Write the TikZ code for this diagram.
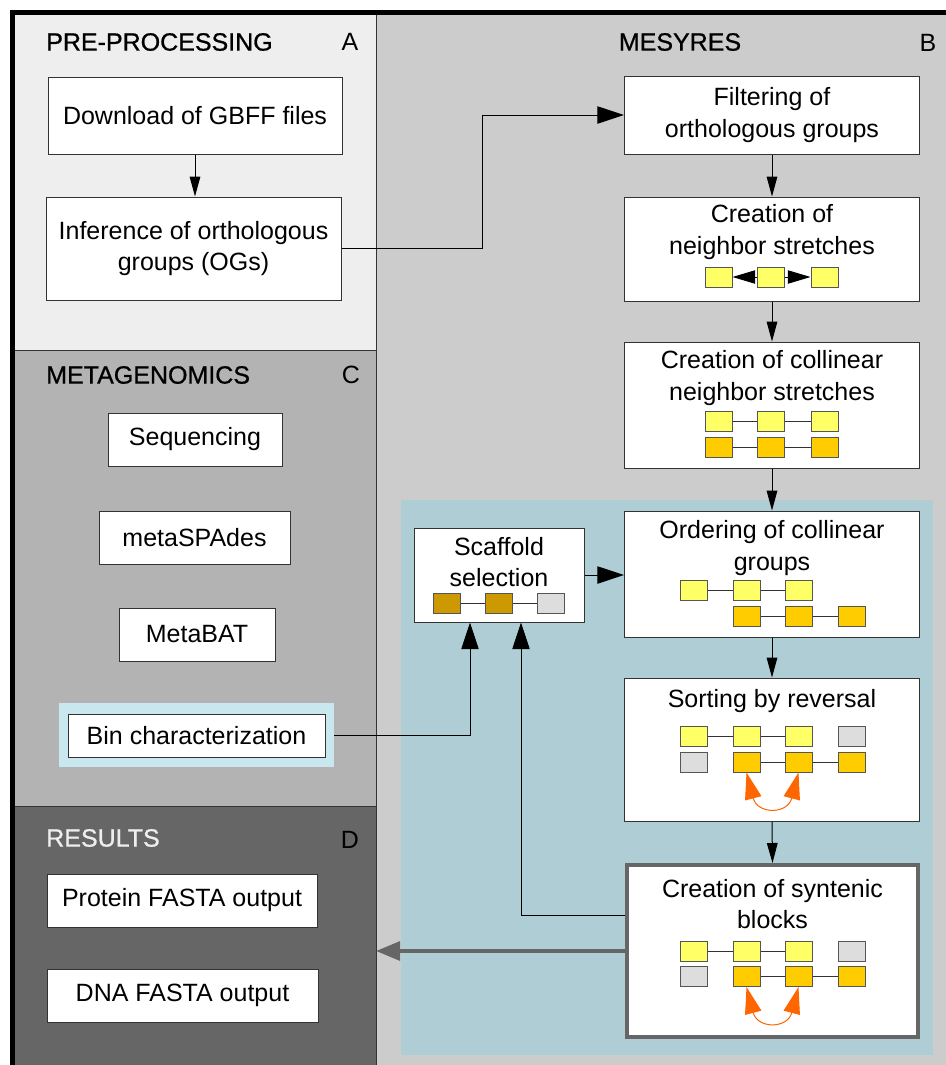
\documentclass[tikz,border=0pt]{standalone}
\usepackage{fontspec}
\setmainfont{Liberation Sans}
\newfontfamily\medfont[FakeBold=0.8]{Liberation Sans}
\usetikzlibrary{arrows.meta,calc}
\definecolor{pA}{HTML}{EEEEEE}
\definecolor{pB}{HTML}{CCCCCC}
\definecolor{pC}{HTML}{B3B3B3}
\definecolor{pD}{HTML}{666666}
\definecolor{blueR}{HTML}{AECDD4}
\definecolor{binblue}{HTML}{C9E7EF}
\definecolor{cY}{HTML}{FFFF66}
\definecolor{cO}{HTML}{FFCC00}
\definecolor{cG}{HTML}{CC9900}
\definecolor{cL}{HTML}{DDDDDD}
\definecolor{cR}{HTML}{FF6600}
\definecolor{bordc}{HTML}{333333}
\definecolor{sqc}{HTML}{555555}
\begin{document}
\begin{tikzpicture}[x=0.75pt,y=-0.75pt,
  bx/.style 2 args={draw=bordc, line width=0.75pt, fill=white, minimum width=#1*0.75pt, minimum height=#2*0.75pt, inner sep=0pt, align=center, font=\fontsize{18.75}{23.5}\selectfont},
  txt/.style={inner sep=0pt, align=center, font=\fontsize{18.75}{23.5}\selectfont},
  ttl/.style={inner sep=0pt, anchor=west, font=\medfont\fontsize{18.75}{22}\selectfont},
  lett/.style={inner sep=0pt, font=\fontsize{18.75}{22}\selectfont},
  sq/.style={draw=sqc, line width=0.75pt, minimum width=27*0.75pt, minimum height=20*0.75pt, inner sep=0pt},
  sqY/.style={sq, fill=cY}, sqO/.style={sq, fill=cO}, sqG/.style={sq, fill=cG}, sqL/.style={sq, fill=cL},
  link/.style={draw=bordc, line width=0.75pt},
  arr/.style={-{Triangle[length=15pt,width=8pt]}, line width=0.75pt, black},
  bigarr/.style={-{Triangle[length=20pt,width=13pt]}, line width=0.75pt, black},
  nbarr/.style={-{Triangle[length=17pt,width=10pt]}, line width=0.75pt, black},
  orarr/.style={{Triangle[length=20pt,width=12.5pt]}-{Triangle[length=20pt,width=12.5pt]}, line width=0.75pt, cR},
  grayarr/.style={-{Triangle[length=18pt,width=14pt]}, line width=3pt, pD},
  divider/.style={draw=bordc, line width=0.75pt}
]
\useasboundingbox (0,0) rectangle (946,1065);
% panels
\fill[pB] (376,12) rectangle (946,1065);
\fill[pA] (12,12) rectangle (376,350);
\fill[pC] (12,350) rectangle (376,806);
\fill[pD] (12,806) rectangle (376,1065);
\draw[divider] (376,12) -- (376,1065);
\draw[divider] (12,350) -- (376,350);
\draw[divider] (12,806) -- (376,806);
\fill[blueR] (401,500) rectangle (933,1055);
\draw[line width=3.75pt] (12,1065) -- (12,12) -- (946,12);
% titles
\node[ttl] (tA) at (46,42) {PRE-PROCESSING};
\node[lett] (lA) at (350,42) {A};
\node[lett, font=\medfont\fontsize{18.75}{22}\selectfont] (tB) at (680,42) {MESYRES};
\node[lett] (lB) at (928,43) {B};
\node[ttl] (tC) at (46,375) {METAGENOMICS};
\node[lett] (lC) at (351,375) {C};
\node[ttl, text=pA] (tD) at (46,838) {RESULTS};
\node[lett] (lD) at (350,840) {D};
% panel A
\node[bx={294}{77}] (dl) at (195,115.5) {Download of GBFF files};
\node[bx={295}{103}] (og) at (193.5,248.5) {Inference of orthologous\\groups (OGs)};
% panel C
\node[bx={174}{53}] (seq) at (195,439.5) {Sequencing};
\node[bx={191}{53}] (spa) at (194.5,537.5) {metaSPAdes};
\node[bx={156}{53}] (mba) at (197,634.5) {MetaBAT};
\node[fill=binblue, minimum width=275*0.75pt, minimum height=64*0.75pt, inner sep=0pt] (bin) at (196.5,735) {};
\node[bx={257}{43}] (binb) at (196.5,735.5) {Bin characterization};
% panel D
\node[bx={270}{53}] (prot) at (182,900.5) {Protein FASTA output};
\node[bx={271}{53}] (dna) at (182.5,995.5) {DNA FASTA output};
% panel B boxes
\node[bx={295}{78}] (filt) at (772,115) {Filtering of\\orthologous groups};
\node[bx={295}{104}] (nb) at (772,249) {};
\node[txt] (nbt) at (772,232) {Creation of\\neighbor stretches};
\node[bx={295}{126}] (col) at (772,405) {};
\node[txt] (colt) at (772,378) {Creation of collinear\\neighbor stretches};
\node[bx={295}{126}] (ord) at (772,574) {};
\node[txt] (ordt) at (772,548) {Ordering of collinear\\groups};
\node[bx={295}{143}] (sort) at (772,749.5) {};
\node[txt] (sortt) at (772,701) {Sorting by reversal};
\node[bx={291}{172}, draw=pD, line width=3pt] (syn) at (772.5,951) {};
\node[txt] (synt) at (772.5,904) {Creation of syntenic\\blocks};
\node[bx={170}{94}] (scaf) at (499,575) {};
\node[txt] (scaft) at (499,562) {Scaffold\\selection};
% squares: neighbor
\node[sqY] (n1) at (718.5,277) {};
\node[sqY] (n2) at (771,277) {};
\node[sqY] (n3) at (824.5,277) {};
\draw[nbarr] (n2.west) -- (n1.east);
\draw[nbarr] (n2.east) -- (n3.west);
% collinear
\node[sqY] (c1) at (718.5,421.5) {};
\node[sqY] (c2) at (771,421.5) {};
\node[sqY] (c3) at (824.5,421.5) {};
\node[sqO] (c4) at (718.5,447) {};
\node[sqO] (c5) at (771,447) {};
\node[sqO] (c6) at (824.5,447) {};
\draw[link] (c1.east) -- (c2.west) (c2.east) -- (c3.west) (c4.east) -- (c5.west) (c5.east) -- (c6.west);
% ordering
\node[sqY] (o1) at (693.5,590) {};
\node[sqY] (o2) at (746.5,590) {};
\node[sqY] (o3) at (798.5,590) {};
\node[sqO] (o4) at (746.5,616) {};
\node[sqO] (o5) at (798.5,616) {};
\node[sqO] (o6) at (851.5,616) {};
\draw[link] (o1.east) -- (o2.west) (o2.east) -- (o3.west) (o4.east) -- (o5.west) (o5.east) -- (o6.west);
% sorting
\node[sqY] (s1) at (693.5,736) {};
\node[sqY] (s2) at (746.5,736) {};
\node[sqY] (s3) at (798.5,736) {};
\node[sqL] (s4) at (851.5,736) {};
\node[sqL] (s5) at (693.5,762) {};
\node[sqO] (s6) at (746.5,762) {};
\node[sqO] (s7) at (798.5,762) {};
\node[sqO] (s8) at (851.5,762) {};
\draw[link] (s1.east) -- (s2.west) (s2.east) -- (s3.west) (s6.east) -- (s7.west) (s7.east) -- (s8.west);
\draw[orarr] (s6.south) .. controls +(11,42) and +(-11,42) .. (s7.south);
% synteny
\node[sqY] (y1) at (693.5,951) {};
\node[sqY] (y2) at (746.5,951) {};
\node[sqY] (y3) at (798.5,951) {};
\node[sqL] (y4) at (851.5,951) {};
\node[sqL] (y5) at (693.5,976.5) {};
\node[sqO] (y6) at (746.5,976.5) {};
\node[sqO] (y7) at (798.5,976.5) {};
\node[sqO] (y8) at (851.5,976.5) {};
\draw[link] (y1.east) -- (y2.west) (y2.east) -- (y3.west) (y6.east) -- (y7.west) (y7.east) -- (y8.west);
\draw[orarr] (y6.south) .. controls +(11,42) and +(-11,42) .. (y7.south);
% scaffold
\node[sqG] (f1) at (446.5,603) {};
\node[sqG] (f2) at (499,603) {};
\node[sqL] (f3) at (551,603) {};
\draw[link] (f1.east) -- (f2.west) (f2.east) -- (f3.west);
% connectors
\coordinate (j1) at (482,0);
\coordinate (j2) at (521,915);
\coordinate (j3) at (470,0);
\coordinate (dEdge) at (376,0);
\draw[arr] (dl.south) -- (dl.south |- og.north);
\draw[bigarr] (og.east) -| (j1 |- filt.west) -- (filt.west);
\draw[arr] (filt.south) -- (nb.north);
\draw[arr] (nb.south) -- (col.north);
\draw[arr] (col.south) -- (ord.north);
\draw[arr] (ord.south) -- (sort.north);
\draw[arr] (sort.south) -- (syn.north);
\draw[bigarr] (scaf.east) -- (scaf.east -| ord.west);
\draw[bigarr] (bin.east) -| (j3 |- scaf.south);
\draw[bigarr] (syn.west |- j2) -- (j2) -- (j2 |- scaf.south);
\draw[grayarr] (syn.west) -- (syn.west -| dEdge);
\end{tikzpicture}
\end{document}
